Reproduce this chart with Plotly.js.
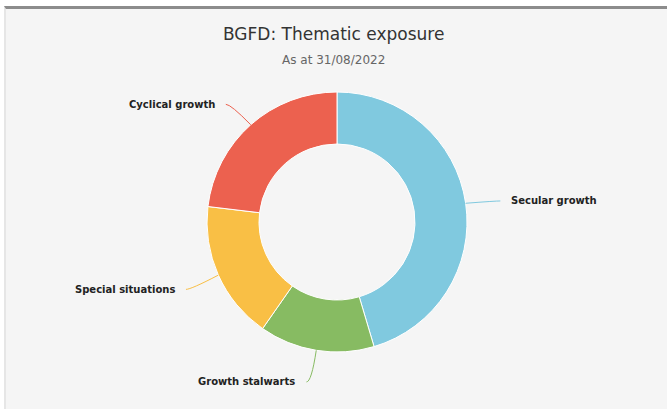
<!DOCTYPE html>
<html>
<head>
<meta charset="utf-8">
<script src="https://cdn.plot.ly/plotly-3.0.1.min.js"></script>
<style>
  html, body { margin:0; padding:0; background:#ffffff; width:667px; height:409px; overflow:hidden; }
  #frame { position:absolute; left:4px; top:6px; width:663px; height:403px; background:#f5f5f5;
           border-top:3px solid #8c8c8c; border-left:2px solid #e6e6e6; box-sizing:border-box; }
  #chart { position:absolute; left:0; top:0; width:667px; height:409px; }
</style>
</head>
<body>
<div id="frame"></div>
<div id="chart"></div>
<script>
const categories = ["Secular growth", "Growth stalwarts", "Special situations", "Cyclical growth"];
const values = [45.4, 14.3, 17.2, 23.1];
const colors = ["#80c9df", "#87bb62", "#f9bf45", "#ec614f"];
const titleText = "BGFD: Thematic exposure";
const subtitleText = "As at 31/08/2022";

const W = 667, H = 409;
const cx = 337, cy = 222, R = 130;   // pie centre / radius in pixels
const labelDist = 30;

const font = "DejaVu Sans, Verdana, sans-serif";

// pie domain so that the pie sits at (cx, cy) with radius R
const domain = {
  x: [(cx - R) / W, (cx + R) / W],
  y: [(H - cy - R) / H, (H - cy + R) / H]
};

const px = x => x / W;
const py = y => 1 - y / H;

const total = values.reduce((a, b) => a + b, 0);
const annotations = [];
const shapes = [];
let cum = 0;
values.forEach((v, i) => {
  const mid = (cum + v / 2) / total * 2 * Math.PI;
  cum += v;
  const sx = Math.sin(mid), sy = -Math.cos(mid);
  const ex = cx + R * sx, ey = cy + R * sy;
  const ly = cy + (R + labelDist) * sy;
  const dx = Math.sqrt(Math.max(0, (R + labelDist) ** 2 - (ly - cy) ** 2));
  const right = sx >= 0;
  const circX = right ? cx + dx : cx - dx;
  const textEdge = right ? circX + 14 : circX - 14;
  const lineEnd = right ? textEdge - 9 : textEdge + 9;
  const textY = ly + 2;
  shapes.push({
    type: "path", xref: "paper", yref: "paper",
    path: `M ${px(ex)} ${py(ey)} Q ${px(circX)} ${py(textY)} ${px(lineEnd)} ${py(textY)}`,
    line: { color: colors[i], width: 1 }
  });
  annotations.push({
    xref: "paper", yref: "paper", x: px(textEdge), y: py(textY),
    xanchor: right ? "left" : "right", yanchor: "middle",
    text: "<b>" + categories[i] + "</b>", showarrow: false,
    font: { family: font, size: 10, color: "#222222" }
  });
});

annotations.push({
  xref: "paper", yref: "paper", x: 0.5, y: py(34), xanchor: "center", yanchor: "middle",
  text: titleText, showarrow: false,
  font: { family: font, size: 17, color: "#333333" }
});
annotations.push({
  xref: "paper", yref: "paper", x: 0.5, y: py(60), xanchor: "center", yanchor: "middle",
  text: subtitleText, showarrow: false,
  font: { family: font, size: 12, color: "#666666" }
});

const data = [{
  type: "pie",
  labels: categories,
  values: values,
  hole: 0.6,
  sort: false,
  direction: "clockwise",
  rotation: 0,
  textinfo: "none",
  marker: { colors: colors, line: { color: "#ffffff", width: 1 } },
  domain: domain,
  hoverinfo: "label+percent"
}];

const layout = {
  width: W, height: H,
  margin: { l: 0, r: 0, t: 0, b: 0 },
  paper_bgcolor: "rgba(0,0,0,0)",
  plot_bgcolor: "rgba(0,0,0,0)",
  showlegend: false,
  annotations: annotations,
  shapes: shapes
};

Plotly.newPlot("chart", data, layout, { displayModeBar: false, staticPlot: true });
</script>
</body>
</html>
